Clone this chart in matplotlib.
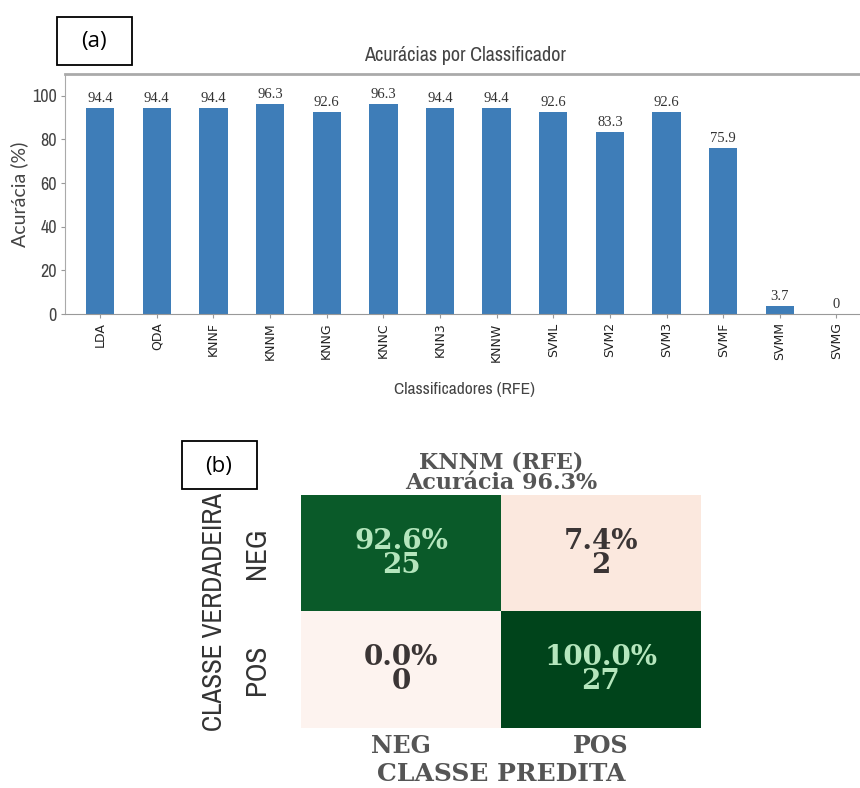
import numpy as np
import matplotlib
matplotlib.use("Agg")
import matplotlib.pyplot as plt
from matplotlib import font_manager
from matplotlib.font_manager import FontProperties
from matplotlib.colors import LinearSegmentedColormap
from matplotlib.patches import Rectangle

# Accuracy per classifier (RFE feature selection)
classifiers = ['LDA', 'QDA', 'KNNF', 'KNNM', 'KNNG', 'KNNC', 'KNN3',
               'KNNW', 'SVML', 'SVM2', 'SVM3', 'SVMF', 'SVMM', 'SVMG']
accuracy = [94.4, 94.4, 94.4, 96.3, 92.6, 96.3, 94.4,
            94.4, 92.6, 83.3, 92.6, 75.9, 3.7, 0]

# Confusion matrix of the best model (KNNM)
class_labels = ['NEG', 'POS']
cm_counts = np.array([[25, 2], [0, 27]])
cm_percent = np.array([[92.6, 7.4], [0.0, 100.0]])
best_model = 'KNNM (RFE)'
best_acc = 96.3


def find_condensed():
    # look for any narrow/condensed face installed on the system
    cands = []
    for f in font_manager.fontManager.ttflist:
        fn = f.fname.lower()
        if ('condensed' in fn or 'narrow' in fn) and 'bold' not in fn \
                and 'italic' not in fn and 'oblique' not in fn:
            cands.append(f.fname)
    for key in ['narrow', 'dejavusanscondensed', 'roboto', 'opensans', 'noto']:
        for c in cands:
            if key in c.lower().replace('-', '').replace('_', ''):
                return c
    return cands[0] if cands else None


cond_file = find_condensed()


def narrow_fp(size):
    if cond_file:
        return FontProperties(fname=cond_file, size=size)
    return FontProperties(family='DejaVu Sans', size=size)


fig = plt.figure(figsize=(8.6, 7.88), dpi=100)

# ---- (a) bar chart ----
ax = fig.add_axes([0.0756, 0.6015, 0.93, 0.3046])
x = np.arange(len(classifiers))
ax.bar(x, accuracy, width=0.5, color='#3e7db8')
for xi, v in zip(x, accuracy):
    ax.text(xi, v + 1.5, f'{v:g}', ha='center', va='bottom', fontsize=10.5,
            family='Liberation Serif', color='#333333')
ax.set_xlim(-0.62, 13.5)
ax.set_ylim(0, 110)
ax.set_yticks([0, 20, 40, 60, 80, 100])
ax.set_xticks(x)
ax.set_xticklabels(classifiers, rotation=90, fontsize=9, color='#222222')
for t in ax.get_yticklabels():
    t.set_fontproperties(narrow_fp(13))
    t.set_color('#444444')
ax.tick_params(axis='both', length=3, color='#999999', pad=3)
ax.set_title('Acurácias por Classificador', fontproperties=narrow_fp(14.5),
             color='#444444', pad=9)
ax.set_xlabel('Classificadores (RFE)', fontproperties=narrow_fp(12.5),
              color='#444444', labelpad=15)
ax.set_ylabel('Acurácia (%)', family='Lato', fontsize=14, color='#444444',
              labelpad=3)
ax.spines['right'].set_visible(False)
ax.spines['top'].set_color('#aaaaaa')
ax.spines['top'].set_linewidth(2)
ax.spines['left'].set_color('#aaaaaa')
ax.spines['bottom'].set_color('#999999')

# ---- (b) confusion matrix ----
cmap = LinearSegmentedColormap.from_list(
    'pinkgreen', [(0.0, '#fdf3ef'), (0.08, '#fbe7dc'), (0.5, '#6fae7e'),
                  (0.92, '#0c5e2b'), (1.0, '#00441b')])
ax2 = fig.add_axes([0.35, 0.0761, 0.465, 0.2957])
ax2.imshow(cm_percent, cmap=cmap, vmin=0, vmax=100, aspect='auto')
for i in range(2):
    for j in range(2):
        dark = cm_percent[i, j] > 50
        ax2.text(j, i, f'{cm_percent[i, j]:.1f}%\n{cm_counts[i, j]}',
                 ha='center', va='center', fontsize=20, family='DejaVu Serif',
                 fontweight='bold', linespacing=0.86,
                 color='#b5e6bd' if dark else '#3b3535')
ax2.set_xticks([0, 1])
ax2.set_yticks([0, 1])
ax2.set_xticklabels(class_labels, family='DejaVu Serif', fontsize=17,
                    fontweight='bold', color='#555555')
ax2.set_yticklabels(class_labels, rotation=90, va='center',
                    fontproperties=narrow_fp(21), color='#333333')
ax2.tick_params(axis='x', length=0, pad=4)
ax2.tick_params(axis='y', length=0, pad=22)
ax2.set_xlabel('CLASSE PREDITA', family='DejaVu Serif', fontsize=18,
               fontweight='bold', color='#555555', labelpad=3)
ax2.set_ylabel('CLASSE VERDADEIRA', fontproperties=narrow_fp(19.5),
               color='#333333', labelpad=12)
ax2.set_title(f'{best_model}\nAcurácia {best_acc}%', family='DejaVu Serif',
              fontsize=16, fontweight='bold', color='#555555',
              linespacing=0.92, pad=4)
for s in ax2.spines.values():
    s.set_visible(False)

# panel tags
for (bx, by), tag in [((57, 17), '(a)'), ((182, 441), '(b)')]:
    fig.add_artist(Rectangle((bx / 860, 1 - (by + 48) / 788), 75 / 860, 48 / 788,
                             transform=fig.transFigure, fill=False,
                             edgecolor='black', linewidth=1.3))
    fig.text((bx + 37) / 860, 1 - (by + 25) / 788, tag, ha='center',
             va='center', fontsize=16, family='Open Sans', color='black')

fig.savefig('out.png', dpi=100)
